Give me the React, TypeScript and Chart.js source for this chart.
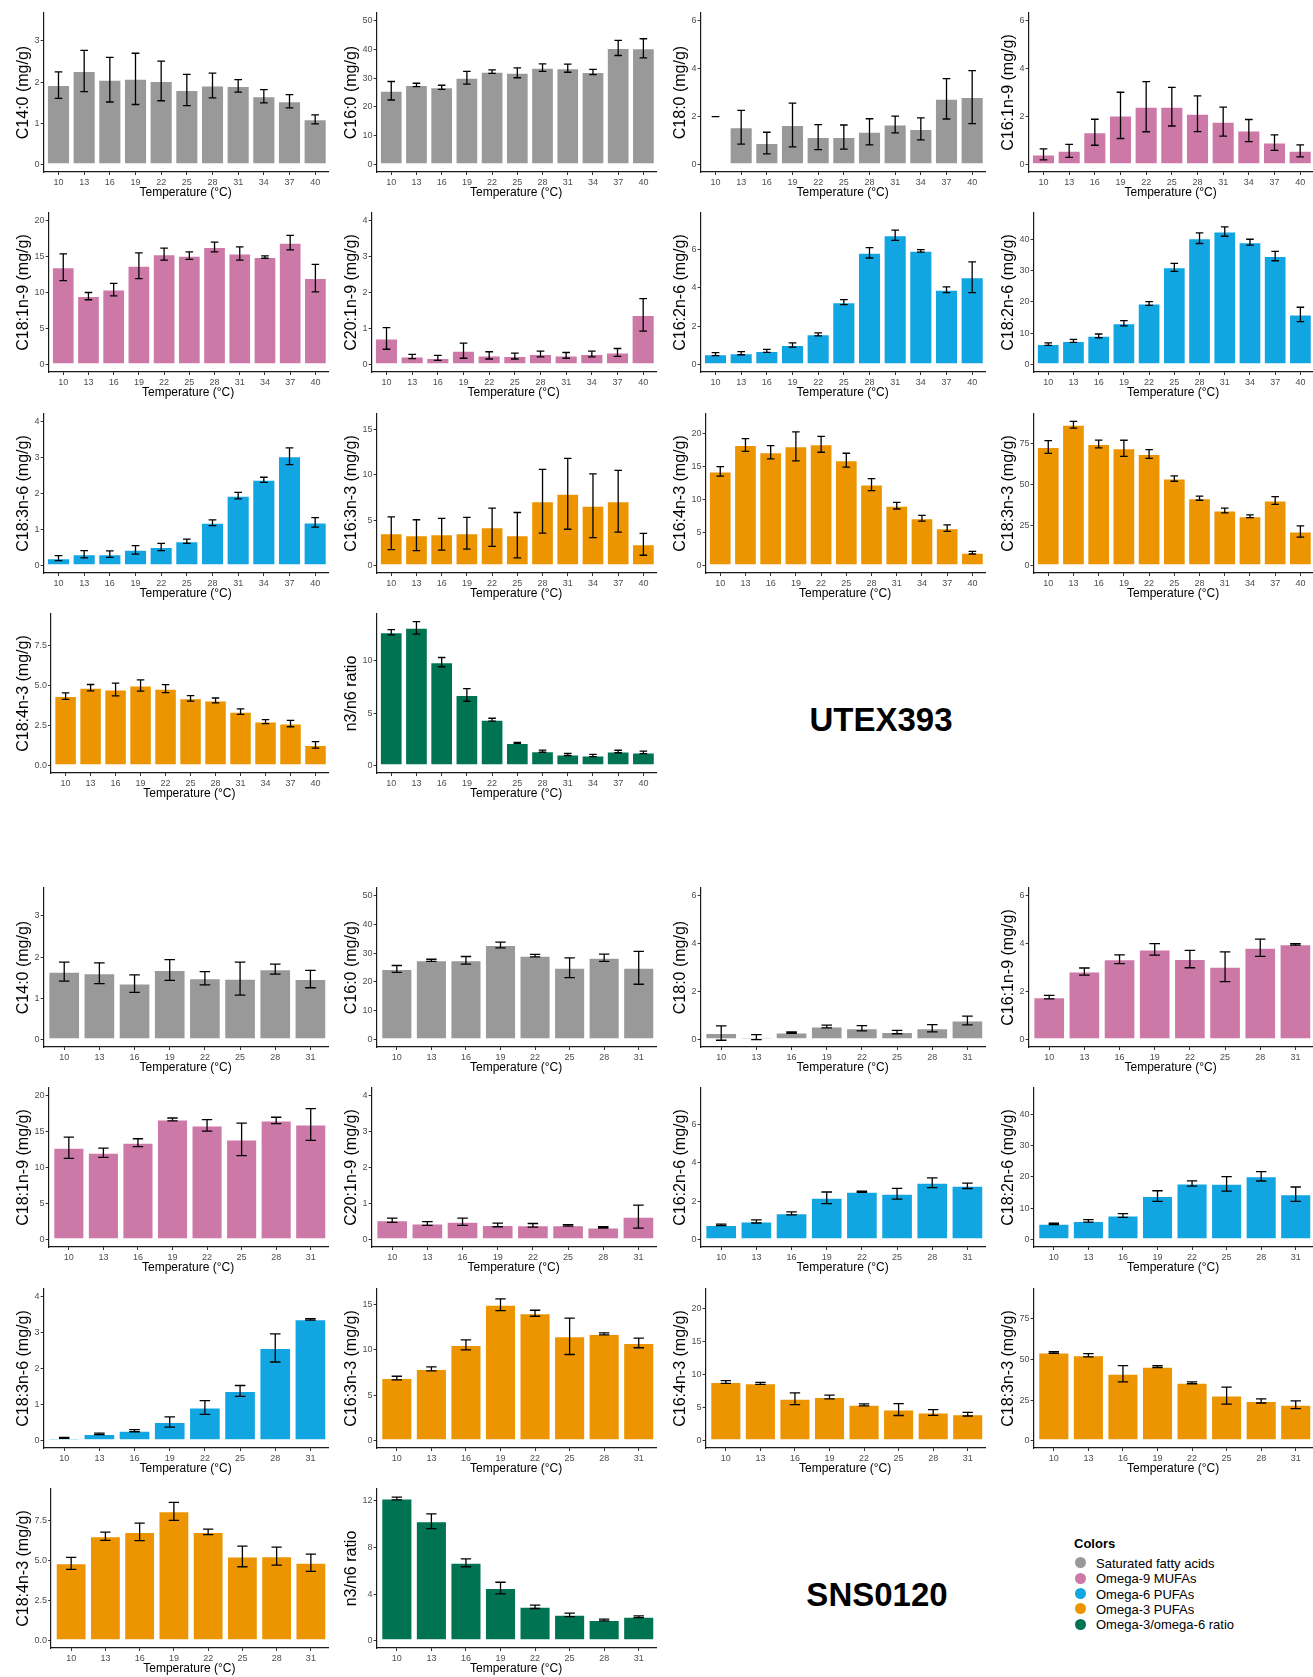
import React, { useEffect, useRef } from 'react';
import { Chart, registerables } from 'chart.js';

Chart.register(...registerables);

const FONT = "'Liberation Sans', Arial, Helvetica, sans-serif";

// ---------- categories ----------
const tempsUTEX = [10, 13, 16, 19, 22, 25, 28, 31, 34, 37, 40];
const tempsSNS = [10, 13, 16, 19, 22, 25, 28, 31];

// ---------- panel definitions (shared by both strains) ----------
const yLabels = [
  'C14:0 (mg/g)', 'C16:0 (mg/g)', 'C18:0 (mg/g)', 'C16:1n-9 (mg/g)',
  'C18:1n-9 (mg/g)', 'C20:1n-9 (mg/g)', 'C16:2n-6 (mg/g)', 'C18:2n-6 (mg/g)',
  'C18:3n-6 (mg/g)', 'C16:3n-3 (mg/g)', 'C16:4n-3 (mg/g)', 'C18:3n-3 (mg/g)',
  'C18:4n-3 (mg/g)', 'n3/n6 ratio',
];
const groups = ['sat', 'sat', 'sat', 'n9', 'n9', 'n9', 'n6', 'n6', 'n6', 'n3', 'n3', 'n3', 'n3', 'ratio'];
const yLimitsUTEX = [3.5, 50, 6, 6, 20, 4, 7.5, 46, 4, 15.9, 21.9, 89, 9, 13.78];
const yLimitsSNS = [3.5, 50, 6, 6, 20, 4, 7.5, 46, 4, 15.9, 21.9, 89, 9, 12.4];
const yStepsUTEX = [1, 10, 2, 2, 5, 1, 2, 10, 1, 5, 5, 25, 2.5, 5];
const yStepsSNS = [1, 10, 2, 2, 5, 1, 2, 10, 1, 5, 5, 25, 2.5, 4];
const yDecimals = [0, 0, 0, 0, 0, 0, 0, 0, 0, 0, 0, 0, 1, 0];

const groupColors: Record<string, string> = {
  sat: '#999999',
  n9: '#CC79A7',
  n6: '#11A5E2',
  n3: '#EC9500',
  ratio: '#007352',
};
const legendKeys = ['sat', 'n9', 'n6', 'n3', 'ratio'];
const legendNames = ['Saturated fatty acids', 'Omega-9 MUFAs', 'Omega-6 PUFAs', 'Omega-3 PUFAs', 'Omega-3/omega-6 ratio'];

// ---------- UTEX393 values (mean, sd) ----------
const utex_C14_0 = [1.93, 2.27, 2.06, 2.08, 2.03, 1.81, 1.92, 1.91, 1.66, 1.54, 1.10];
const utex_C14_0_sd = [0.32, 0.50, 0.54, 0.62, 0.48, 0.38, 0.30, 0.15, 0.16, 0.16, 0.11];
const utex_C16_0 = [25.6, 27.6, 26.8, 30.1, 32.2, 31.8, 33.6, 33.4, 32.1, 40.4, 40.3];
const utex_C16_0_sd = [3.2, 0.6, 0.7, 2.2, 0.6, 1.7, 1.3, 1.4, 0.9, 2.6, 3.3];
const utex_C18_0 = [2.0, 1.56, 0.90, 1.65, 1.15, 1.15, 1.37, 1.67, 1.49, 2.74, 2.81];
const utex_C18_0_sd = [0, 0.70, 0.45, 0.91, 0.52, 0.50, 0.54, 0.35, 0.46, 0.84, 1.10];
const utex_C18_0_noBar = [0];
const utex_C16_1n9 = [0.43, 0.58, 1.35, 2.05, 2.41, 2.41, 2.12, 1.79, 1.42, 0.92, 0.58];
const utex_C16_1n9_sd = [0.23, 0.27, 0.54, 0.96, 1.04, 0.80, 0.74, 0.60, 0.46, 0.32, 0.25];
const utex_C18_1n9 = [13.5, 9.5, 10.4, 13.7, 15.3, 15.1, 16.3, 15.4, 14.9, 16.9, 12.0];
const utex_C18_1n9_sd = [1.85, 0.5, 0.87, 1.77, 0.83, 0.53, 0.67, 0.92, 0.16, 1.0, 1.9];
const utex_C20_1n9 = [0.73, 0.23, 0.19, 0.39, 0.26, 0.24, 0.30, 0.26, 0.30, 0.34, 1.38];
const utex_C20_1n9_sd = [0.30, 0.06, 0.07, 0.21, 0.10, 0.08, 0.08, 0.08, 0.08, 0.11, 0.45];
const utex_C16_2n6 = [0.55, 0.60, 0.72, 1.03, 1.58, 3.25, 5.81, 6.72, 5.91, 3.89, 4.54];
const utex_C16_2n6_sd = [0.08, 0.08, 0.08, 0.11, 0.08, 0.13, 0.27, 0.27, 0.06, 0.15, 0.80];
const utex_C18_2n6 = [6.6, 7.6, 9.2, 13.2, 19.5, 31.0, 40.3, 42.4, 39.0, 34.6, 16.0];
const utex_C18_2n6_sd = [0.4, 0.5, 0.6, 0.85, 0.6, 1.25, 1.7, 1.5, 0.95, 1.5, 2.3];
const utex_C18_3n6 = [0.21, 0.32, 0.32, 0.44, 0.52, 0.68, 1.19, 1.94, 2.38, 3.03, 1.20];
const utex_C18_3n6_sd = [0.07, 0.10, 0.09, 0.12, 0.10, 0.06, 0.08, 0.09, 0.07, 0.23, 0.13];
const utex_C16_3n3 = [3.58, 3.36, 3.47, 3.58, 4.24, 3.36, 7.1, 7.92, 6.6, 7.1, 2.36];
const utex_C16_3n3_sd = [1.8, 1.7, 1.75, 1.75, 2.1, 2.5, 3.5, 3.9, 3.5, 3.4, 1.2];
const utex_C16_4n3 = [14.3, 18.3, 17.2, 18.1, 18.4, 16.0, 12.3, 9.1, 7.2, 5.7, 1.98];
const utex_C16_4n3_sd = [0.73, 0.97, 1.0, 2.2, 1.2, 1.05, 0.9, 0.5, 0.45, 0.5, 0.2];
const utex_C18_3n3 = [73.1, 86.8, 75.0, 72.3, 68.8, 53.7, 41.6, 34.0, 30.5, 40.2, 21.1];
const utex_C18_3n3_sd = [3.9, 2.1, 2.4, 5.0, 2.7, 1.65, 1.25, 1.45, 0.8, 2.4, 3.5];
const utex_C18_4n3 = [4.34, 4.86, 4.75, 5.0, 4.8, 4.2, 4.07, 3.37, 2.75, 2.63, 1.30];
const utex_C18_4n3_sd = [0.2, 0.2, 0.4, 0.35, 0.25, 0.17, 0.15, 0.17, 0.12, 0.2, 0.2];
const utex_n3n6 = [12.72, 13.15, 9.88, 6.75, 4.39, 2.18, 1.39, 1.08, 0.98, 1.36, 1.27];
const utex_n3n6_sd = [0.25, 0.6, 0.44, 0.6, 0.14, 0.05, 0.1, 0.1, 0.1, 0.12, 0.12];

// ---------- SNS0120 values (mean, sd) ----------
const sns_C14_0 = [1.65, 1.61, 1.36, 1.69, 1.49, 1.48, 1.71, 1.47];
const sns_C14_0_sd = [0.23, 0.25, 0.21, 0.25, 0.16, 0.40, 0.12, 0.21];
const sns_C16_0 = [24.5, 27.5, 27.5, 32.8, 29.1, 24.9, 28.4, 24.9];
const sns_C16_0_sd = [1.2, 0.35, 1.3, 1.0, 0.45, 3.4, 1.25, 5.7];
const sns_C18_0 = [0.28, 0.11, 0.30, 0.55, 0.48, 0.32, 0.48, 0.80];
const sns_C18_0_sd = [0.3, 0.1, 0.03, 0.06, 0.11, 0.07, 0.15, 0.18];
const sns_C16_1n9 = [1.77, 2.83, 3.34, 3.75, 3.35, 3.03, 3.82, 3.96];
const sns_C16_1n9_sd = [0.07, 0.15, 0.18, 0.24, 0.36, 0.62, 0.36, 0.03];
const sns_C18_1n9 = [12.74, 12.05, 13.43, 16.65, 15.82, 13.89, 16.51, 15.96];
const sns_C18_1n9_sd = [1.47, 0.64, 0.55, 0.2, 0.8, 2.25, 0.44, 2.2];
const sns_C20_1n9 = [0.54, 0.45, 0.50, 0.41, 0.40, 0.40, 0.34, 0.64];
const sns_C20_1n9_sd = [0.06, 0.05, 0.1, 0.05, 0.05, 0.02, 0.02, 0.32];
const sns_C16_2n6 = [0.77, 0.95, 1.37, 2.18, 2.49, 2.39, 2.96, 2.80];
const sns_C16_2n6_sd = [0.04, 0.08, 0.08, 0.3, 0.03, 0.28, 0.25, 0.14];
const sns_C18_2n6 = [5.06, 6.0, 7.7, 13.9, 17.9, 17.8, 20.2, 14.5];
const sns_C18_2n6_sd = [0.2, 0.4, 0.6, 1.7, 0.85, 2.3, 1.5, 2.3];
const sns_C18_3n6 = [0.08, 0.19, 0.28, 0.52, 0.92, 1.38, 2.57, 3.36];
const sns_C18_3n6_sd = [0.01, 0.02, 0.03, 0.14, 0.19, 0.15, 0.39, 0.02];
const sns_C16_3n3 = [6.9, 7.9, 10.54, 14.96, 14.03, 11.49, 11.75, 10.76];
const sns_C16_3n3_sd = [0.2, 0.22, 0.55, 0.65, 0.33, 2.0, 0.11, 0.53];
const sns_C16_4n3 = [8.9, 8.7, 6.37, 6.63, 5.45, 4.73, 4.28, 4.03];
const sns_C16_4n3_sd = [0.2, 0.15, 0.9, 0.28, 0.15, 0.9, 0.43, 0.28];
const sns_C18_3n3 = [54.3, 52.6, 41.3, 45.6, 35.7, 27.8, 24.5, 22.2];
const sns_C18_3n3_sd = [0.5, 1.0, 5.0, 0.6, 0.6, 5.2, 1.25, 2.4];
const sns_C18_4n3 = [4.82, 6.51, 6.78, 8.06, 6.78, 5.25, 5.27, 4.86];
const sns_C18_4n3_sd = [0.37, 0.26, 0.54, 0.56, 0.17, 0.64, 0.56, 0.54];
const sns_n3n6 = [12.2, 10.25, 6.69, 4.52, 2.91, 2.23, 1.78, 2.06];
const sns_n3n6_sd = [0.12, 0.63, 0.34, 0.5, 0.14, 0.15, 0.08, 0.07];

const utexMeans = [utex_C14_0, utex_C16_0, utex_C18_0, utex_C16_1n9, utex_C18_1n9, utex_C20_1n9, utex_C16_2n6, utex_C18_2n6, utex_C18_3n6, utex_C16_3n3, utex_C16_4n3, utex_C18_3n3, utex_C18_4n3, utex_n3n6];
const utexSds = [utex_C14_0_sd, utex_C16_0_sd, utex_C18_0_sd, utex_C16_1n9_sd, utex_C18_1n9_sd, utex_C20_1n9_sd, utex_C16_2n6_sd, utex_C18_2n6_sd, utex_C18_3n6_sd, utex_C16_3n3_sd, utex_C16_4n3_sd, utex_C18_3n3_sd, utex_C18_4n3_sd, utex_n3n6_sd];
const snsMeans = [sns_C14_0, sns_C16_0, sns_C18_0, sns_C16_1n9, sns_C18_1n9, sns_C20_1n9, sns_C16_2n6, sns_C18_2n6, sns_C18_3n6, sns_C16_3n3, sns_C16_4n3, sns_C18_3n3, sns_C18_4n3, sns_n3n6];
const snsSds = [sns_C14_0_sd, sns_C16_0_sd, sns_C18_0_sd, sns_C16_1n9_sd, sns_C18_1n9_sd, sns_C20_1n9_sd, sns_C16_2n6_sd, sns_C18_2n6_sd, sns_C18_3n6_sd, sns_C16_3n3_sd, sns_C16_4n3_sd, sns_C18_3n3_sd, sns_C18_4n3_sd, sns_n3n6_sd];

// ---------- layout ----------
const COL_X = [0, 328, 657, 985];
const ROW_Y_UTEX = [0, 200, 401, 601];
const ROW_Y_SNS = [875, 1075, 1276, 1476];
const PANEL_W = 329;
const PANEL_H = 200;

type Spec = {
  label: string;
  color: string;
  limit: number;
  step: number;
  decimals: number;
  temps: number[];
  mean: number[];
  sd: number[];
  noBar: number[];
};

function Panel({ spec, left, top }: { spec: Spec; left: number; top: number }) {
  const ref = useRef<HTMLCanvasElement>(null);
  useEffect(() => {
    if (!ref.current) return;
    const n = spec.temps.length;
    const errorPlugin = {
      id: 'errbars',
      afterDatasetsDraw(chart: any) {
        const { ctx, scales } = chart;
        const x = scales.x;
        const y = scales.y;
        ctx.save();
        ctx.strokeStyle = '#000000';
        ctx.lineWidth = 1.3;
        spec.mean.forEach((m, i) => {
          const s = spec.sd[i];
          const px = x.getPixelForValue(i);
          const half = x.getPixelForValue(i + 0.15) - px;
          const yTop = y.getPixelForValue(m + s);
          const yBot = y.getPixelForValue(m - s);
          ctx.beginPath();
          ctx.moveTo(px, yTop);
          ctx.lineTo(px, yBot);
          ctx.moveTo(px - half, yTop);
          ctx.lineTo(px + half, yTop);
          ctx.moveTo(px - half, yBot);
          ctx.lineTo(px + half, yBot);
          ctx.stroke();
        });
        ctx.restore();
      },
    };
    const yTicks: number[] = [];
    for (let v = 0; v <= spec.limit + 1e-9; v += spec.step) yTicks.push(v);

    const chart = new Chart(ref.current, {
      type: 'bar',
      data: {
        datasets: [
          {
            data: spec.mean.map((m, i) => ({ x: i, y: spec.noBar.includes(i) ? null : m })) as any,
            backgroundColor: spec.color,
            borderColor: 'rgba(255,255,255,0.35)',
            borderWidth: 1,
            borderSkipped: false,
            categoryPercentage: 0.9,
            barPercentage: 1.0,
          } as any,
        ],
      },
      options: {
        responsive: false,
        animation: false,
        events: [],
        layout: { padding: { top: 13, left: 10.4, right: 1, bottom: 0 } },
        plugins: {
          legend: { display: false },
          tooltip: { enabled: false },
        },
        scales: {
          x: {
            type: 'linear',
            min: -0.6,
            max: n - 0.5,
            bounds: 'data',
            offset: false,
            grid: { offset: false, drawOnChartArea: false, drawTicks: true, tickLength: 3, color: '#333333', lineWidth: 1 },
            border: { display: true, color: '#1a1a1a', width: 1.2 },
            ticks: {
              autoSkip: false,
              maxRotation: 0,
              padding: 2,
              color: '#4D4D4D',
              font: { size: 9, family: FONT },
              callback: (_v: any, idx: number) => String(spec.temps[idx]),
            },
            afterBuildTicks: (scale: any) => {
              scale.ticks = spec.temps.map((_t, i) => ({ value: i }));
            },
            afterFit: (scale: any) => {
              scale.height = 28;
            },
            title: {
              display: true,
              text: 'Temperature (°C)',
              color: '#000000',
              font: { size: 12, family: FONT },
              padding: { top: 0, bottom: 0 },
            },
          } as any,
          y: {
            type: 'linear',
            min: -0.05 * spec.limit,
            max: 1.05 * spec.limit,
            bounds: 'data',
            grid: { drawOnChartArea: false, drawTicks: true, tickLength: 2.5, color: '#333333', lineWidth: 1 },
            border: { display: true, color: '#1a1a1a', width: 1.2 },
            ticks: {
              autoSkip: false,
              padding: 1,
              color: '#4D4D4D',
              font: { size: 9, family: FONT },
              callback: (v: any) => Number(v).toFixed(spec.decimals),
            },
            afterBuildTicks: (scale: any) => {
              scale.ticks = yTicks.map((v) => ({ value: v }));
            },
            title: {
              display: true,
              text: spec.label,
              color: '#000000',
              font: { size: 16, family: FONT },
              padding: { top: 4, bottom: 0 },
            },
          } as any,
        },
      },
      plugins: [errorPlugin],
    });
    return () => chart.destroy();
  }, [spec]);

  return (
    <canvas
      ref={ref}
      width={PANEL_W}
      height={PANEL_H}
      style={{ position: 'absolute', left, top, width: PANEL_W, height: PANEL_H }}
    />
  );
}

function buildSpecs(
  temps: number[],
  means: number[][],
  sds: number[][],
  limits: number[],
  steps: number[],
  noBars: Record<number, number[]>
): Spec[] {
  return yLabels.map((label, p) => ({
    label,
    color: groupColors[groups[p]],
    limit: limits[p],
    step: steps[p],
    decimals: yDecimals[p],
    temps,
    mean: means[p],
    sd: sds[p],
    noBar: noBars[p] || [],
  }));
}

const utexSpecs = buildSpecs(tempsUTEX, utexMeans, utexSds, yLimitsUTEX, yStepsUTEX, { 2: utex_C18_0_noBar });
const snsSpecs = buildSpecs(tempsSNS, snsMeans, snsSds, yLimitsSNS, yStepsSNS, {});

export default function App() {
  return (
    <div
      style={{
        position: 'absolute',
        left: 0,
        top: 0,
        width: 1313,
        height: 1677,
        background: '#ffffff',
        overflow: 'hidden',
        fontFamily: FONT,
      }}
    >
      {utexSpecs.map((s, p) => (
        <Panel key={'u' + p} spec={s} left={COL_X[p % 4]} top={ROW_Y_UTEX[Math.floor(p / 4)]} />
      ))}
      {snsSpecs.map((s, p) => (
        <Panel key={'s' + p} spec={s} left={COL_X[p % 4]} top={ROW_Y_SNS[Math.floor(p / 4)]} />
      ))}

      <div
        style={{
          position: 'absolute',
          left: 881,
          top: 719,
          transform: 'translate(-50%, -50%)',
          fontWeight: 'bold',
          fontSize: 33,
          color: '#000',
          whiteSpace: 'nowrap',
          lineHeight: 1,
        }}
      >
        UTEX393
      </div>
      <div
        style={{
          position: 'absolute',
          left: 877,
          top: 1594,
          transform: 'translate(-50%, -50%)',
          fontWeight: 'bold',
          fontSize: 33,
          color: '#000',
          whiteSpace: 'nowrap',
          lineHeight: 1,
        }}
      >
        SNS0120
      </div>

      <div
        style={{
          position: 'absolute',
          left: 1074,
          top: 1543,
          transform: 'translateY(-50%)',
          fontWeight: 'bold',
          fontSize: 13,
          color: '#000',
          lineHeight: 1,
        }}
      >
        Colors
      </div>
      {legendKeys.map((k, i) => (
        <div key={k}>
          <div
            style={{
              position: 'absolute',
              left: 1080.7 - 5.5,
              top: 1562.7 + i * 15.4 - 5.5,
              width: 11,
              height: 11,
              borderRadius: '50%',
              background: groupColors[k],
            }}
          />
          <div
            style={{
              position: 'absolute',
              left: 1096,
              top: 1562.7 + i * 15.4,
              transform: 'translateY(-50%)',
              fontSize: 13,
              color: '#000',
              lineHeight: 1,
              whiteSpace: 'nowrap',
            }}
          >
            {legendNames[i]}
          </div>
        </div>
      ))}
    </div>
  );
}
